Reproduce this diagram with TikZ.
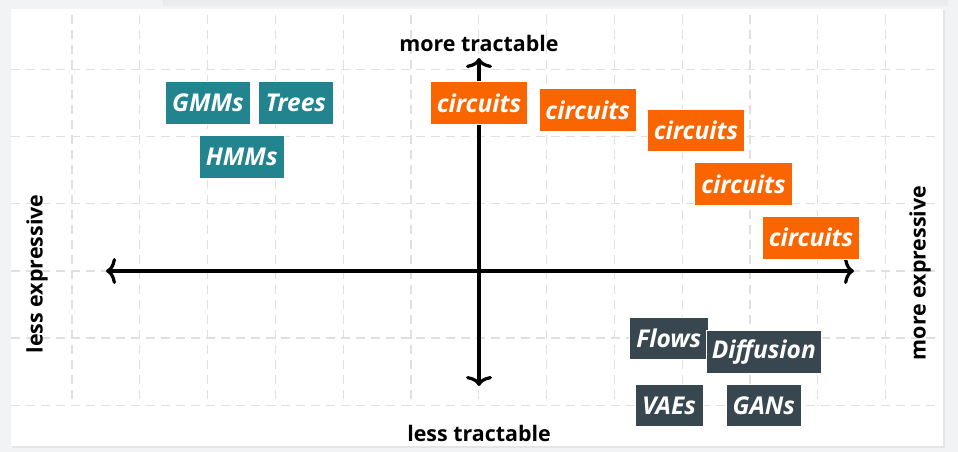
\documentclass[tikz,border=0pt]{standalone}
\usepackage{fontspec}
\setmainfont{Open Sans}
\usetikzlibrary{arrows.meta}
\definecolor{bgout}{HTML}{F2F3F5}
\definecolor{topbar}{HTML}{E9EBED}
\definecolor{gridc}{HTML}{E0E0E0}
\definecolor{tealc}{HTML}{21848F}
\definecolor{orangec}{HTML}{FB6500}
\definecolor{darkc}{HTML}{38474F}
\tikzset{
  px/.style={x=1pt,y=-1pt},
  gridline/.style={draw=gridc,line width=1.3pt,dash pattern=on 9pt off 6pt},
  axisline/.style={line width=3.2pt,
    arrows={Computer Modern Rightarrow[length=10pt,width=26pt,line width=3.2pt]-Computer Modern Rightarrow[length=10pt,width=26pt,line width=3.2pt]}},
  axislabel/.style={font=\fontsize{21.4}{21.4}\selectfont\bfseries,inner sep=0pt},
  tag/.style={text=white,inner sep=0pt,font=\fontsize{24.5}{24.5}\selectfont\bfseries\itshape,
    draw=white,line width=0.6pt},
}
\begin{document}
\begin{tikzpicture}[px]
\useasboundingbox (0,0) rectangle (958,452);
\fill[bgout] (0,0) rectangle (958,452);
\fill[topbar] (163,0) rectangle (948,6);
% card with shadow
\fill[black!10] (12,10) rectangle (945,448);
\fill[white] (11,9) rectangle (943,446);
% grid
\foreach \i in {0,...,12} {
  \draw[gridline] ({72+67.8*\i},15) -- ({72+67.8*\i},406);
}
\foreach \j in {0,...,5} {
  \draw[gridline] (11,{69.3+67.2*\j}) -- (941,{69.3+67.2*\j});
}
% axes
\coordinate (L) at (106,271);
\coordinate (R) at (854,271);
\coordinate (T) at (479,58);
\coordinate (B) at (479,386);
\draw[axisline] (L) -- (R);
\draw[axisline] (B) -- (T);
% axis labels
\node[axislabel] (mt) at (479,43) {more tractable};
\node[axislabel] (lt) at (479,433) {less tractable};
\node[axislabel,rotate=90] (le) at (37,274) {less expressive};
\node[axislabel,rotate=90] (me) at (920,273) {more expressive};
% teal
\node[tag,fill=tealc,minimum width=84.5pt,minimum height=42.6pt] (gmms) at (208,103) {GMMs};
\node[tag,fill=tealc,minimum width=75pt,minimum height=42.6pt] (trees) at (295.8,103) {Trees};
\node[tag,fill=tealc,minimum width=84.7pt,minimum height=42.6pt] (hmms) at (241.7,157) {HMMs};
% orange
\node[tag,fill=orangec,minimum width=97.5pt,minimum height=42.6pt] (c1) at (479,103) {circuits};
\node[tag,fill=orangec,minimum width=97.5pt,minimum height=42.6pt] (c2) at (587.7,109.9) {circuits};
\node[tag,fill=orangec,minimum width=97.5pt,minimum height=42.6pt] (c3) at (696,130.2) {circuits};
\node[tag,fill=orangec,minimum width=97.5pt,minimum height=42.6pt] (c4) at (743.5,183.9) {circuits};
\node[tag,fill=orangec,minimum width=97.5pt,minimum height=42.6pt] (c5) at (811,237.7) {circuits};
% dark
\node[tag,fill=darkc,minimum width=78.5pt,minimum height=42pt] (flows) at (668.8,338.3) {Flows};
\node[tag,fill=darkc,minimum width=115.7pt,minimum height=42.7pt] (diff) at (763.8,351.7) {Diffusion};
\node[tag,fill=darkc,minimum width=68pt,minimum height=42.4pt] (vaes) at (669,405.5) {VAEs};
\node[tag,fill=darkc,minimum width=75pt,minimum height=42.4pt] (gans) at (763.8,405.5) {GANs};
\end{tikzpicture}
\end{document}
